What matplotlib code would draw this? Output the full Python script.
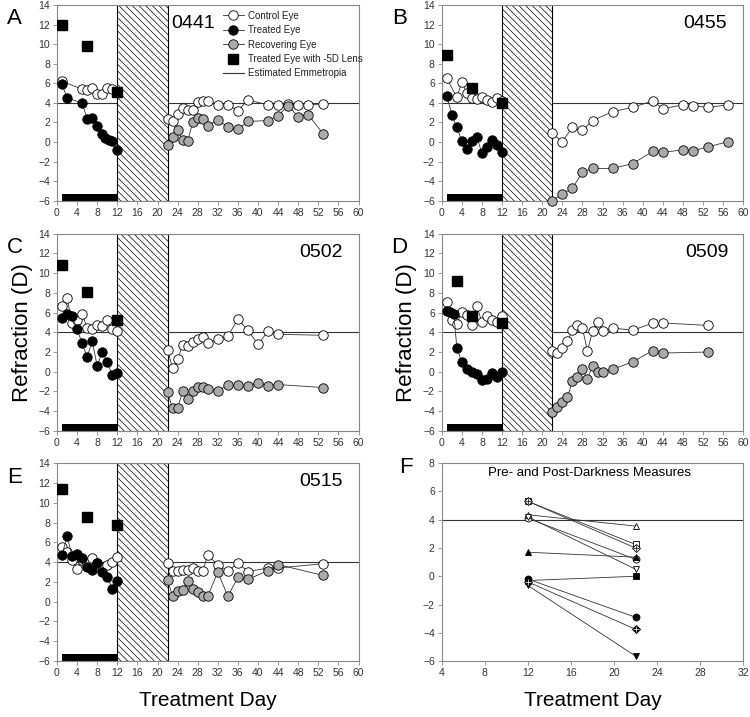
import numpy as np
import matplotlib
matplotlib.use("Agg")
import matplotlib.pyplot as plt
from matplotlib.patches import Rectangle
from matplotlib.lines import Line2D

plt.rcParams["font.family"] = ["Liberation Sans", "DejaVu Sans"]
plt.rcParams["hatch.linewidth"] = 0.5

lens_period = (1, 12)
dark_period = (12, 22)
emmetropia = 4

# ---- 0441 ----
a_ctrl_pre_d = [1, 5, 6, 7, 8, 9, 10, 11]
a_ctrl_pre = [6.2, 5.4, 5.3, 5.5, 4.9, 4.9, 5.5, 5.4]
a_trt_d = [1, 2, 5, 6, 7, 8, 9, 9.6, 10.4, 11, 12]
a_trt = [5.9, 4.5, 4.0, 2.4, 2.5, 1.6, 0.8, 0.4, 0.2, 0.1, -0.85]
a_lens_d = [1, 6, 12]
a_lens = [12.0, 9.8, 5.1]
a_post_d = [22, 23, 24, 25, 26, 27, 28, 29, 30, 32, 34, 36, 38, 42, 44, 46, 48, 50, 53]
a_ctrl_post = [2.4, 2.1, 2.9, 3.5, 3.3, 3.3, 4.1, 4.2, 4.2, 3.8, 3.8, 3.2, 4.3, 3.8, 3.8, 3.9, 3.8, 3.8, 3.9]
a_rec = [-0.3, 0.5, 1.2, 0.2, 0.1, 2.0, 2.5, 2.4, 1.6, 2.3, 1.5, 1.3, 2.1, 2.2, 2.7, 3.7, 2.6, 2.8, 0.8]

# ---- 0455 ----
b_ctrl_pre_d = [1, 3, 4, 5, 6, 7, 8, 9, 10, 11, 12]
b_ctrl_pre = [6.5, 4.6, 6.1, 5.0, 4.5, 4.4, 4.6, 4.3, 4.1, 4.5, 4.2]
b_trt_d = [1, 2, 3, 4, 5, 6, 7, 8, 9, 10, 11, 12]
b_trt = [4.75, 2.8, 1.5, 0.1, -0.7, 0.15, 0.5, -1.15, -0.5, 0.2, -0.3, -1.0]
b_lens_d = [1, 6, 12]
b_lens = [8.9, 5.5, 4.0]
b_post_d = [22, 24, 26, 28, 30, 34, 38, 42, 44, 48, 50, 53, 57]
b_ctrl_post = [0.9, 0.05, 1.5, 1.2, 2.2, 3.1, 3.55, 4.2, 3.4, 3.8, 3.7, 3.55, 3.8]
b_rec = [-6.0, -5.3, -4.7, -3.1, -2.7, -2.7, -2.2, -0.95, -1.05, -0.8, -0.9, -0.5, 0.05]

# ---- 0502 ----
c_ctrl_pre_d = [1, 2, 3, 4, 5, 6, 7, 8, 9, 10, 11, 12]
c_ctrl_pre = [6.7, 7.5, 4.9, 5.2, 5.9, 4.4, 4.3, 4.7, 4.6, 5.2, 4.3, 4.1]
c_trt_d = [1, 2, 3, 4, 5, 6, 7, 8, 9, 10, 11, 12]
c_trt = [5.5, 5.9, 5.7, 4.3, 2.9, 1.5, 3.1, 0.6, 2.0, 1.0, -0.35, -0.15]
c_lens_d = [1, 6, 12]
c_lens = [10.85, 8.1, 5.2]
c_post_d = [22, 23, 24, 25, 26, 27, 28, 29, 30, 32, 34, 36, 38, 40, 42, 44, 53]
c_ctrl_post = [2.2, 0.35, 1.25, 2.7, 2.6, 3.0, 3.3, 3.5, 2.9, 3.3, 3.6, 5.35, 4.2, 2.8, 4.1, 3.8, 3.7]
c_rec = [-2.1, -3.7, -3.7, -2.0, -2.8, -2.0, -1.5, -1.5, -1.75, -1.95, -1.35, -1.35, -1.45, -1.1, -1.4, -1.3, -1.6]

# ---- 0509 ----
d_ctrl_pre_d = [1, 2, 3, 4, 5, 6, 7, 8, 9, 10, 11, 12]
d_ctrl_pre = [7.1, 5.2, 4.8, 6.1, 5.8, 4.7, 6.65, 5.0, 5.7, 5.3, 5.05, 5.65]
d_trt_d = [1, 1.7, 2.4, 3, 4, 5, 6, 7, 8, 9, 10, 11, 12]
d_trt = [6.2, 6.1, 5.9, 2.45, 0.95, 0.25, 0.0, -0.25, -0.8, -0.7, -0.1, -0.5, 0.0]
d_lens_d = [3, 6, 12]
d_lens = [9.2, 5.65, 4.95]
d_post_d = [22, 23, 24, 25, 26, 27, 28, 29, 30, 31, 32, 34, 38, 42, 44, 53]
d_ctrl_post = [2.1, 1.9, 2.4, 3.1, 4.2, 4.7, 4.4, 2.1, 4.1, 5.05, 4.1, 4.45, 4.2, 4.95, 4.95, 4.7]
d_rec = [-4.1, -3.6, -3.1, -2.6, -0.95, -0.5, 0.25, -0.7, 0.6, 0.0, -0.05, 0.25, 1.0, 2.15, 1.9, 2.0]

# ---- 0515 ----
e_ctrl_pre_d = [1, 2, 3, 4, 5, 6, 7, 8, 9, 10, 11, 12]
e_ctrl_pre = [5.5, 5.0, 4.2, 3.35, 4.2, 3.8, 4.4, 3.9, 3.5, 3.7, 4.0, 4.55]
e_trt_d = [1, 2, 3, 4, 5, 6, 7, 8, 9, 10, 11, 12]
e_trt = [4.7, 6.65, 4.6, 4.85, 4.45, 3.5, 3.25, 3.9, 3.0, 2.5, 1.3, 2.05]
e_lens_d = [1, 6, 12]
e_lens = [11.4, 8.6, 7.8]
e_post_d = [22, 23, 24, 25, 26, 27, 28, 29, 30, 32, 34, 36, 38, 42, 44, 53]
e_ctrl_post = [3.95, 3.15, 3.15, 3.25, 3.25, 3.4, 3.15, 3.1, 4.7, 3.75, 3.1, 3.9, 3.05, 3.4, 3.4, 3.85]
e_rec = [2.2, 0.55, 1.1, 1.2, 2.05, 1.3, 0.95, 0.6, 0.55, 3.0, 0.55, 2.45, 2.25, 3.15, 3.75, 2.65]

# ---- panel F: pre (day 12) and post (day 22) darkness ----
f_days = [12, 22]
f_markers = ["o", "s", "^", "v", "D"]
f_ctrl = [[4.1, 1.2], [5.3, 2.25], [4.35, 3.55], [4.2, 0.5], [5.3, 2.0]]
f_trt = [[-0.2, -2.9], [-0.3, 0.0], [1.7, 1.35], [-0.65, -5.65], [-0.4, -3.75]]

GRAY = "#aaaaaa"
LINE = "#333333"
SPINE = "#888888"
TICK = "#333333"


def style_axes(ax):
    for s in ax.spines.values():
        s.set_color(SPINE)
        s.set_linewidth(0.8)
    ax.tick_params(direction="out", length=3, width=0.6, color=SPINE,
                   labelsize=7.5, labelcolor=TICK, pad=2)


def series(ax, x, y, face, marker="o", ms=6.8):
    ax.plot(x, y, color=LINE, lw=0.6, marker=marker, ms=ms, mfc=face,
            mec="black", mew=0.6, zorder=3, clip_on=False)


def panel(ax, label, animal, lx, d):
    ax.set_xlim(0, 60)
    ax.set_ylim(-6, 14)
    ax.set_xticks(np.arange(0, 61, 4))
    ax.set_yticks(np.arange(-6, 15, 2))
    ax.axhline(emmetropia, color="#333333", lw=0.8, zorder=1)
    ax.add_patch(Rectangle((dark_period[0], -6), dark_period[1] - dark_period[0], 20,
                           facecolor="white", edgecolor="black", hatch="\\\\\\\\\\",
                           lw=0.8, zorder=1.5))
    ax.add_patch(Rectangle((lens_period[0], -6), lens_period[1] - lens_period[0], 0.7,
                           facecolor="black", edgecolor="none", zorder=2))
    series(ax, d[0], d[1], "white")
    series(ax, d[2], d[3], "black")
    series(ax, d[6], d[7], "white")
    series(ax, d[6], d[8], GRAY)
    ax.plot(d[4], d[5], ls="none", marker="s", ms=7, color="black", mec="black",
            zorder=4)
    ax.text(lx, 12.1, animal, fontsize=14, ha="center", va="center")
    ax.text(-0.14, 0.93, label, transform=ax.transAxes, fontsize=16,
            ha="center", va="center")
    style_axes(ax)


fig = plt.figure(figsize=(7.5, 7.17), dpi=100)
L1, L2, W = 0.076, 0.589, 0.402
rows = [(0.720, 0.273), (0.399, 0.275), (0.078, 0.276)]

axA = fig.add_axes([L1, rows[0][0], W, rows[0][1]])
axB = fig.add_axes([L2, rows[0][0], W, rows[0][1]])
axC = fig.add_axes([L1, rows[1][0], W, rows[1][1]])
axD = fig.add_axes([L2, rows[1][0], W, rows[1][1]])
axE = fig.add_axes([L1, rows[2][0], W, rows[2][1]])
axF = fig.add_axes([L2, rows[2][0], W, rows[2][1]])

panel(axA, "A", "0441", 27, [a_ctrl_pre_d, a_ctrl_pre, a_trt_d, a_trt, a_lens_d, a_lens,
                             a_post_d, a_ctrl_post, a_rec])
panel(axB, "B", "0455", 52.5, [b_ctrl_pre_d, b_ctrl_pre, b_trt_d, b_trt, b_lens_d, b_lens,
                               b_post_d, b_ctrl_post, b_rec])
panel(axC, "C", "0502", 52.5, [c_ctrl_pre_d, c_ctrl_pre, c_trt_d, c_trt, c_lens_d, c_lens,
                               c_post_d, c_ctrl_post, c_rec])
panel(axD, "D", "0509", 52.8, [d_ctrl_pre_d, d_ctrl_pre, d_trt_d, d_trt, d_lens_d, d_lens,
                               d_post_d, d_ctrl_post, d_rec])
panel(axE, "E", "0515", 52.5, [e_ctrl_pre_d, e_ctrl_pre, e_trt_d, e_trt, e_lens_d, e_lens,
                               e_post_d, e_ctrl_post, e_rec])

for ax in (axC, axD):
    ax.set_ylabel("Refraction (D)", fontsize=16, labelpad=4)
axE.set_xlabel("Treatment Day", fontsize=15, labelpad=9)

# legend in A
handles = [
    Line2D([], [], color=LINE, lw=0.6, marker="o", ms=6.8, mfc="white", mec="black", mew=0.6),
    Line2D([], [], color=LINE, lw=0.6, marker="o", ms=6.8, mfc="black", mec="black", mew=0.6),
    Line2D([], [], color=LINE, lw=0.6, marker="o", ms=6.8, mfc=GRAY, mec="black", mew=0.6),
    Line2D([], [], ls="none", marker="s", ms=7, color="black"),
    Line2D([], [], color="#333333", lw=0.8),
]
labels = ["Control Eye", "Treated Eye", "Recovering Eye", "Treated Eye with -5D Lens",
          "Estimated Emmetropia"]
leg = axA.legend(handles, labels, loc="upper left", bbox_to_anchor=(0.53, 1.0),
                 frameon=False, fontsize=7, handlelength=2.2, handletextpad=0.4,
                 labelspacing=0.45, borderaxespad=0.2)
for t in leg.get_texts():
    t.set_color("#222222")

# panel F
axF.set_xlim(4, 32)
axF.set_ylim(-6, 8)
axF.set_xticks(np.arange(4, 33, 4))
axF.set_yticks(np.arange(-6, 9, 2))
axF.axhline(emmetropia, color="#333333", lw=0.8, zorder=1)
for m, yc, yt in zip(f_markers, f_ctrl, f_trt):
    for y, face in ((yc, "white"), (yt, "black")):
        axF.plot(f_days, y, color=LINE, lw=0.6, marker=m, ms=5 if m != "D" else 4.5,
                 mfc=face, mec="black", mew=0.6, zorder=3)
        if m == "D":
            axF.plot(f_days, y, ls="none", marker="+", ms=4, mec="white" if face == "black" else "black",
                     mew=0.5, zorder=4)
axF.text(0.49, 0.95, "Pre- and Post-Darkness Measures", transform=axF.transAxes,
         fontsize=9.5, ha="center", va="center")
axF.text(-0.12, 0.98, "F", transform=axF.transAxes, fontsize=16, ha="center", va="center")
axF.set_xlabel("Treatment Day", fontsize=15, labelpad=9)
style_axes(axF)

fig.savefig("out.png", dpi=100)
